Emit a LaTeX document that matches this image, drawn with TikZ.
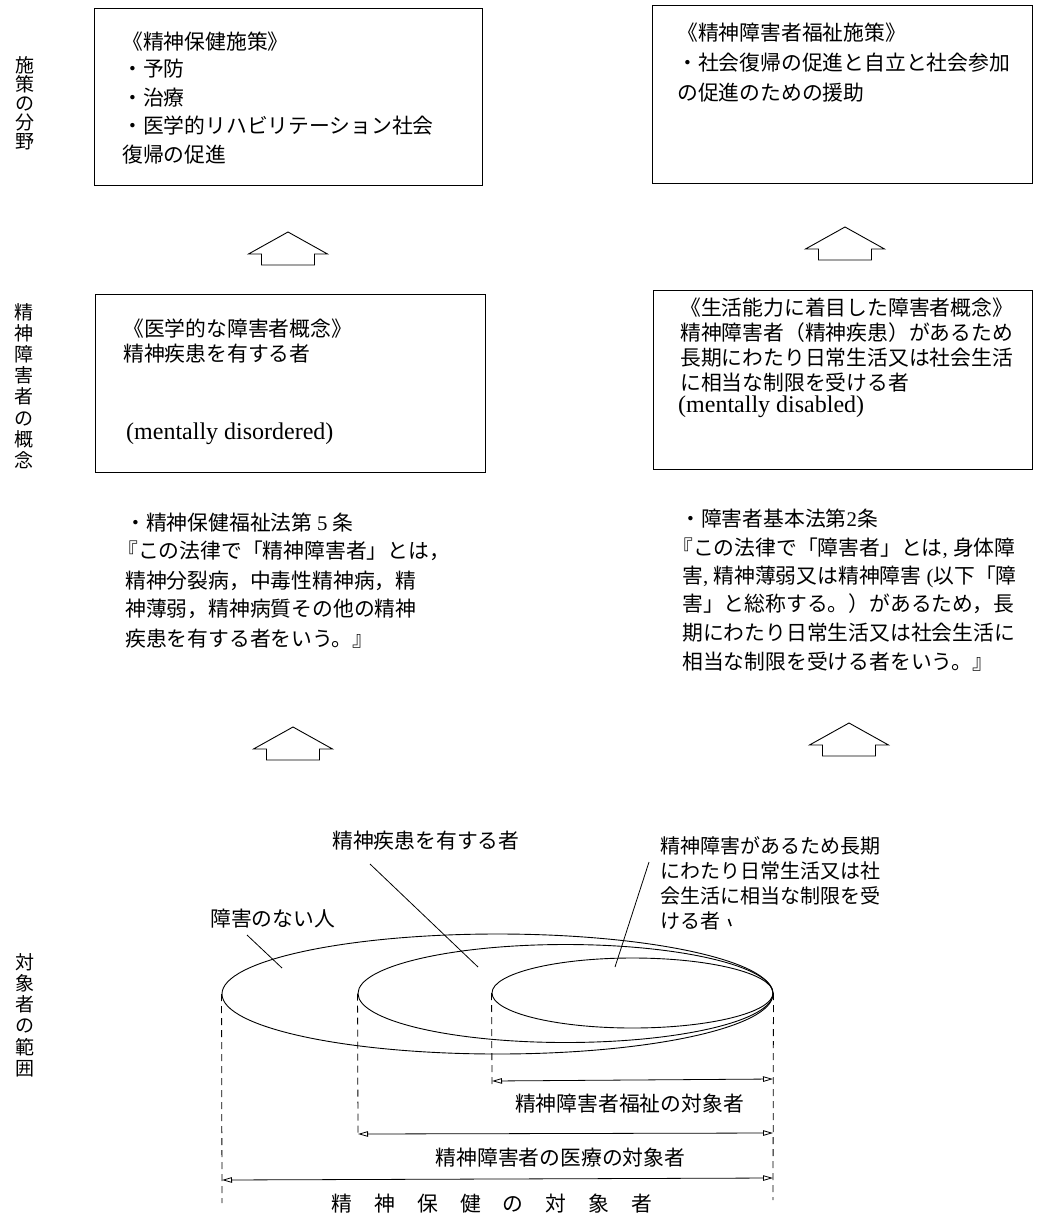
\documentclass[tikz,border=0pt]{standalone}
\usepackage{fontspec}
\newfontfamily\jp{Noto Sans CJK JP}
\newfontfamily\lser{Liberation Serif}
\usetikzlibrary{arrows.meta,shapes.geometric}
\begin{document}
\begin{tikzpicture}[x=1pt,y=-1pt,
  box/.style={draw, line width=0.9pt, inner sep=0pt},
  txt/.style={font=\jp\fontsize{20.8}{25}\selectfont, inner sep=0pt, anchor=base west},
  stxt/.style={font=\jp\fontsize{20}{25}\selectfont, inner sep=0pt, anchor=base west},
  lat/.style={font=\lser\fontsize{24}{25}\selectfont, inner sep=0pt, anchor=base west},
  vlabel/.style={font=\jp\fontsize{19}{21.2}\selectfont, align=center, inner sep=0pt},
  ell/.style={draw, ellipse, inner sep=0pt, line width=0.9pt},
  dsh/.style={dash pattern=on 7pt off 5pt, line width=0.8pt},
  dimline/.style={{Triangle[open,length=10pt,width=5.5pt]}-{Triangle[open,length=10pt,width=5.5pt]}, line width=0.8pt},
  lead/.style={line width=0.8pt},
  uparrow/.pic={\draw[line width=0.9pt, line join=miter] (0,0) -- (39.5,22) -- (26.5,22) -- (26.5,33) -- (-26.5,33) -- (-26.5,22) -- (-39.5,22) -- cycle;}
]
\useasboundingbox (0,0) rectangle (1038,1214);

% vertical labels
\node[vlabel, font=\jp\fontsize{19}{19}\selectfont] (vl1) at (25,103) {施\\策\\の\\分\\野};
\node[vlabel] (vl2) at (24,386) {精\\神\\障\\害\\者\\の\\概\\念};
\node[vlabel] (vl3) at (25,1015) {対\\象\\者\\の\\範\\囲};

% boxes
\node[box, minimum width=388pt, minimum height=177pt] (tlbox) at (288,96.5) {};
\node[box, minimum width=380pt, minimum height=178pt] (trbox) at (842,94) {};
\node[box, minimum width=390pt, minimum height=178pt] (mlbox) at (290,383) {};
\node[box, minimum width=379pt, minimum height=179pt] (mrbox) at (842.5,379.5) {};

% top-left text
\node[txt] (tl1) at (122,50) {《精神保健施策》};
\node[txt] (tl2) at (122,77) {・予防};
\node[txt] (tl3) at (122,105.5) {・治療};
\node[txt] (tl4) at (122,134) {・医学的リハビリテーション社会};
\node[txt] (tl5) at (122,163) {復帰の促進};

% top-right text
\node[txt] (tr1) at (677,41) {《精神障害者福祉施策》};
\node[txt] (tr2) at (677,71) {・社会復帰の促進と自立と社会参加};
\node[txt] (tr3) at (677,101) {の促進のための援助};

% middle-left text
\node[txt] (ml1) at (123,336) {《医学的な障害者概念》};
\node[txt] (ml2) at (123,361) {精神疾患を有する者};
\node[lat] (ml3) at (126,439) {(mentally disordered)};

% middle-right text
\node[txt] (mr1) at (680,316) {《生活能力に着目した障害者概念》};
\node[txt] (mr2) at (680,340) {精神障害者（精神疾患）があるため};
\node[txt] (mr3) at (680,365) {長期にわたり日常生活又は社会生活};
\node[txt] (mr4) at (680,390) {に相当な制限を受ける者};
\node[lat] (mr5) at (678,412) {(mentally disabled)};

% law text left
\node[txt] (ll1) at (125,530) {・精神保健福祉法第 {\lser 5} 条};
\node[txt] (ll2) at (117,558) {『この法律で「精神障害者」とは，};
\node[txt] (ll3) at (125,588) {精神分裂病，中毒性精神病，精};
\node[txt] (ll4) at (125,616) {神薄弱，精神病質その他の精神};
\node[txt] (ll5) at (125,646) {疾患を有する者をいう。』};

% law text right
\node[txt] (lr1) at (680,526) {・障害者基本法第{\lser 2}条};
\node[txt] (lr2) at (672,555) {『この法律で「障害者」とは{\lser, }身体障};
\node[txt] (lr3) at (682,583) {害{\lser, }精神薄弱又は精神障害{\lser\ (}以下「障};
\node[txt] (lr4) at (682,611) {害」と総称する。）があるため，長};
\node[txt] (lr5) at (682,640) {期にわたり日常生活又は社会生活に};
\node[txt] (lr6) at (682,669) {相当な制限を受ける者をいう。』};

% block arrows
\pic (ar1) at (288,232) {uparrow};
\pic (ar2) at (845,227) {uparrow};
\pic (ar3) at (293,727) {uparrow};
\pic (ar4) at (849,723) {uparrow};

% ellipses
\node[ell, minimum width=551pt, minimum height=120pt] (outer) at (497.5,994) {};
\node[ell, minimum width=415pt, minimum height=98pt] (middle) at (565.5,993.5) {};
\node[ell, minimum width=281pt, minimum height=70pt] (inner) at (632.5,993) {};

% ellipse labels
\node[txt] (lb1) at (332,848) {精神疾患を有する者};
\node[txt] (lb2) at (210,926) {障害のない人};
\node[stxt] (lb3a) at (660,853) {精神障害があるため長期};
\node[stxt] (lb3b) at (660,878) {にわたり日常生活又は社};
\node[stxt] (lb3c) at (660,903) {会生活に相当な制限を受};
\node[stxt] (lb3d) at (660,928) {ける者};
\draw[line width=1.6pt] (728.5,919) -- (731,926);

% leader lines
\coordinate (p1) at (247,935); \coordinate (q1) at (282,968);
\coordinate (p2) at (370,864); \coordinate (q2) at (478,967);
\coordinate (p3) at (649,862); \coordinate (q3) at (615,967);
\draw[lead] (p1) -- (q1);
\draw[lead] (p2) -- (q2);
\draw[lead] (p3) -- (q3);

% dashed verticals
\coordinate (e1) at (222,1203);
\coordinate (e2) at (358,1137);
\coordinate (e3) at (492,1084);
\coordinate (e4) at (773,1200);
\draw[dsh] (outer.west) -- (e1);
\draw[dsh] (middle.west) -- (e2);
\draw[dsh] (inner.west) -- (e3);
\draw[dsh] (inner.east) -- (e4);

% dimension arrows
\coordinate (a1l) at (492,1081); \coordinate (a1r) at (773,1079);
\coordinate (a2l) at (358,1134); \coordinate (a2r) at (773,1133);
\coordinate (a3l) at (222,1180); \coordinate (a3r) at (773,1178);
\draw[dimline] (a1l) -- (a1r);
\draw[dimline] (a2l) -- (a2r);
\draw[dimline] (a3l) -- (a3r);

\node[txt, anchor=base] (dt1) at (629.5,1111) {精神障害者福祉の対象者};
\node[txt, anchor=base] (dt2) at (560.5,1165) {精神障害者の医療の対象者};
\node[txt, anchor=base] (dt3) at (492,1211) {精\hskip22pt 神\hskip22pt 保\hskip22pt 健\hskip22pt の\hskip22pt 対\hskip22pt 象\hskip22pt 者};
\end{tikzpicture}
\end{document}
